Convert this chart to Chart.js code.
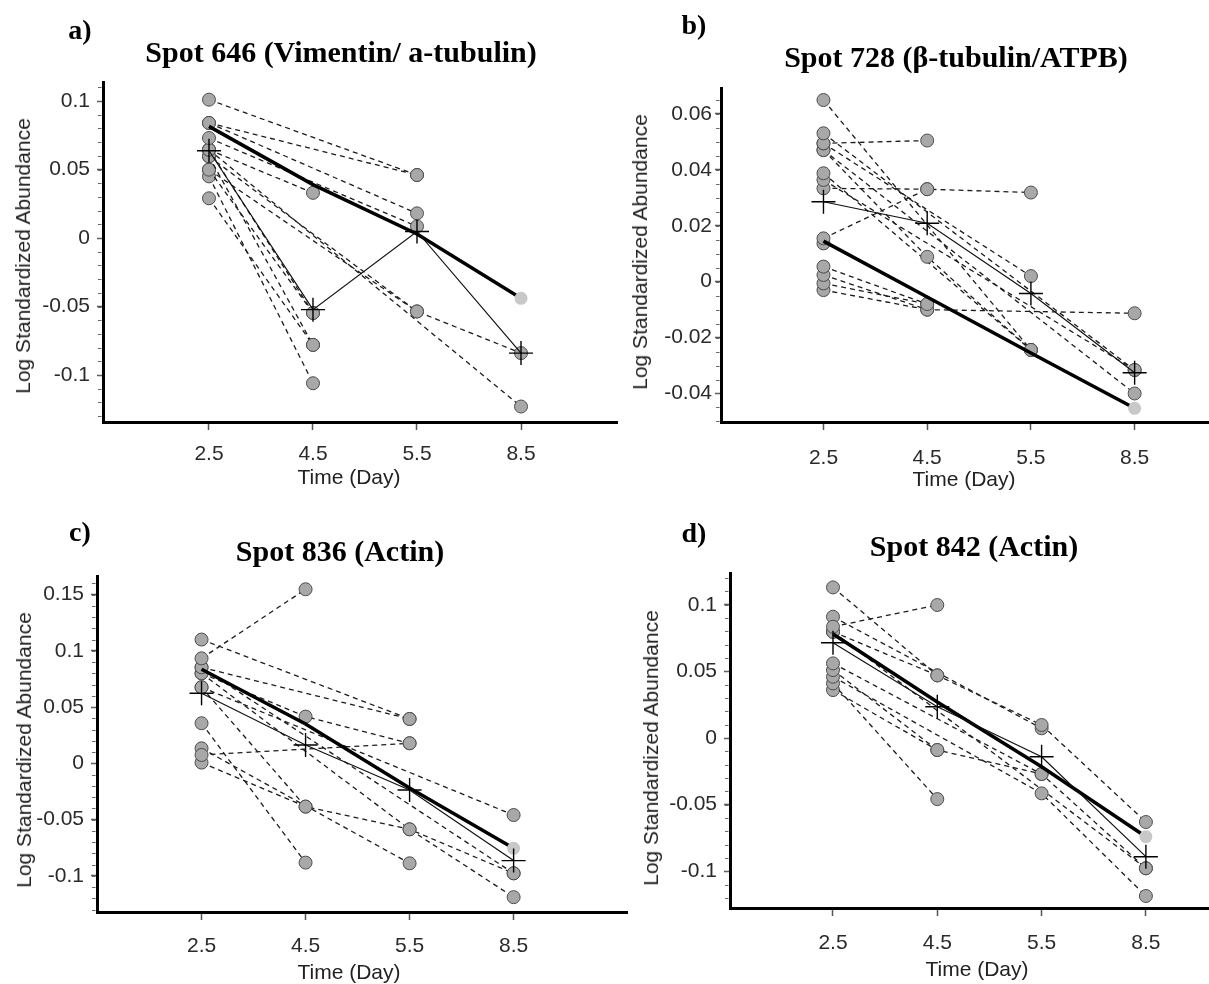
<!DOCTYPE html>
<html>
<head>
<meta charset="utf-8">
<script src="https://cdn.jsdelivr.net/npm/chart.js@4.4.0/dist/chart.umd.min.js"></script>
<style>
  html, body { margin: 0; padding: 0; background: #fff; }
  #page { position: relative; width: 1209px; height: 984px; overflow: hidden; background: #fff; }
  .box { position: absolute; }
  .lbl { position: absolute; white-space: nowrap; transform: translate(-50%, -50%); line-height: 1; }
  .letter { font: bold 28px "Liberation Serif", "Times New Roman", serif; color: #000; }
  .title { font: bold 30px "Liberation Serif", "Times New Roman", serif; color: #000; }
  .xt { font: 21px "Liberation Sans", Arial, sans-serif; color: #222; }
  .yt { font: 21px "Liberation Sans", Arial, sans-serif; color: #222; transform: translate(-50%, -50%) rotate(-90deg); }
</style>
</head>
<body>
<div id="page"></div>
<script>
// ---- data -------------------------------------------------------------
const TIME_LABELS = ['2.5', '4.5', '5.5', '8.5'];

// Each sample row holds log standardized abundance at days 2.5 / 4.5 / 5.5 / 8.5 (null = not measured)
const A_SAMPLES = [
  [0.101, null, 0.046, null],
  [0.084, null, 0.046, null],
  [0.084, null, 0.018, null],
  [0.073, null, 0.0085, null],
  [0.0645, 0.033, null, null],
  [0.0645, -0.0547, null, null],
  [0.0596, -0.078, null, null],
  [0.0499, -0.0547, null, null],
  [0.045, -0.106, null, null],
  [0.029, -0.078, null, null],
  [0.0596, null, -0.0536, -0.084],
  [0.0499, null, -0.0536, null],
  [0.0645, null, null, -0.123]
];
const A_MEAN = [0.0637, -0.0523, 0.0048, -0.084];
const A_TREND = [0.0815, 0.039, 0.003, -0.044];
const A_YTICKS = [-0.1, -0.05, 0, 0.05, 0.1];

const B_SAMPLES = [
  [0.065, null, -0.0244, null],
  [0.0531, null, null, -0.0316],
  [0.0495, 0.0505, null, null],
  [0.0495, null, 0.002, null],
  [0.0471, null, null, -0.040],
  [0.0471, 0.0089, -0.0244, null],
  [0.0388, null, -0.0244, null],
  [0.0364, null, null, -0.0316],
  [0.0334, 0.0331, 0.0319, null],
  [0.0155, 0.0331, null, null],
  [0.0137, null, null, null],
  [0.0054, -0.008, null, null],
  [0.0024, -0.010, null, -0.0113],
  [-0.0006, -0.008, null, null],
  [-0.003, -0.010, null, null]
];
const B_MEAN = [0.0286, 0.0209, -0.0042, -0.0326];
const B_TREND = [0.0145, -0.0055, -0.0255, -0.0453];
const B_YTICKS = [-0.04, -0.02, 0, 0.02, 0.04, 0.06];

const C_SAMPLES = [
  [0.0933, 0.1547, null, null],
  [0.110, null, 0.0394, null],
  [0.0853, null, 0.0394, null],
  [0.080, 0.0415, 0.0178, null],
  [0.0074, null, 0.0178, null],
  [0.0676, null, null, -0.046],
  [0.0356, -0.0883, null, null],
  [0.0006, -0.0385, -0.0587, -0.0978],
  [0.0133, null, -0.0889, null],
  [0.080, null, -0.0587, -0.119],
  [0.0853, null, null, -0.0978],
  [0.0676, -0.0385, null, null]
];
const C_MEAN = [0.0622, 0.0163, -0.0237, -0.0865];
const C_TREND = [0.0836, 0.035, -0.022, -0.0756];
const C_YTICKS = [-0.1, -0.05, 0, 0.05, 0.1, 0.15];

const D_SAMPLES = [
  [0.113, 0.047, 0.0098, -0.063],
  [0.0835, 0.0998, null, null],
  [0.091, null, 0.0073, null],
  [0.0797, 0.047, null, null],
  [0.056, null, -0.027, -0.0977],
  [0.051, -0.009, null, null],
  [0.046, null, -0.0415, -0.1185],
  [0.041, -0.0458, null, null],
  [0.036, -0.009, -0.027, null],
  [0.0797, null, null, -0.0977]
];
const D_MEAN = [0.0715, 0.0235, -0.014, -0.089];
const D_TREND = [0.078, 0.027, -0.0215, -0.074];
const D_YTICKS = [-0.1, -0.05, 0, 0.05, 0.1];

const TITLES = ['Spot 646 (Vimentin/ a-tubulin)', 'Spot 728 (\u03B2-tubulin/ATPB)', 'Spot 836 (Actin)', 'Spot 842 (Actin)'];
const LETTERS = ['a)', 'b)', 'c)', 'd)'];
const X_TITLE = 'Time (Day)';
const Y_TITLE = 'Log Standardized Abundance';

// ---- layout of the four panels (page pixels) ---------------------------
const PANELS = [
  { samples: A_SAMPLES, mean: A_MEAN, trend: A_TREND, yTicks: A_YTICKS, minor: 0.01,
    box: { left: 0, top: 0, w: 620, h: 500 }, area: { left: 103, top: 82, right: 617, bottom: 422 },
    y: [-0.1343, 0.1139], x: [-0.019, 4.923], padY: 7, padX: 12,
    letter: [80, 30], title: [341, 52], xTitle: [349, 477], yTitle: [23, 256] },
  { samples: B_SAMPLES, mean: B_MEAN, trend: B_TREND, yTicks: B_YTICKS, minor: 0.005,
    box: { left: 610, top: 0, w: 599, h: 500 }, area: { left: 111, top: 88, right: 599, bottom: 422 },
    y: [-0.0502, 0.0693], x: [0.012, 4.717], padY: 3, padX: 16,
    letter: [694, 25], title: [956, 57], xTitle: [964, 479], yTitle: [640, 252] },
  { samples: C_SAMPLES, mean: C_MEAN, trend: C_TREND, yTicks: C_YTICKS, minor: 0.01,
    box: { left: 0, top: 500, w: 630, h: 484 }, area: { left: 97, top: 76, right: 627, bottom: 412 },
    y: [-0.1322, 0.1665], x: [-0.005, 5.09], padY: 7, padX: 14,
    letter: [80, 532], title: [340, 551], xTitle: [349, 972], yTitle: [24, 750] },
  { samples: D_SAMPLES, mean: D_MEAN, trend: D_TREND, yTicks: D_YTICKS, minor: 0.01,
    box: { left: 610, top: 500, w: 599, h: 484 }, area: { left: 120, top: 73, right: 599, bottom: 408 },
    y: [-0.1275, 0.1238], x: [0.0125, 4.605], padY: 7, padX: 15,
    letter: [694, 533], title: [974, 546], xTitle: [977, 969], yTitle: [651, 748] }
];

// small tick marks between the labelled ones on the y axis
const minorTicks = {
  id: 'minorTicks',
  afterDraw(chart, args, opts) {
    const ys = chart.scales.y;
    const ctx = chart.ctx;
    const left = chart.chartArea.left;
    const k0 = Math.ceil(ys.min / opts.step - 1e-6);
    const k1 = Math.floor(ys.max / opts.step + 1e-6);
    ctx.save();
    ctx.strokeStyle = '#666';
    ctx.lineWidth = 1;
    for (let k = k0; k <= k1; k++) {
      const p = Math.round(ys.getPixelForValue(k * opts.step)) + 0.5;
      ctx.beginPath();
      ctx.moveTo(left - 5, p);
      ctx.lineTo(left - 1.5, p);
      ctx.stroke();
    }
    ctx.restore();
  }
};

function toPoints(row) {
  return row.map((v, i) => ({ x: i + 1, y: v })).filter(p => p.y !== null);
}

function fmt(v) {
  const s = String(+v.toFixed(3));
  return s === '-0' ? '0' : s;
}

const page = document.getElementById('page');

function addLabel(cls, text, pos) {
  const d = document.createElement('div');
  d.className = 'lbl ' + cls;
  d.textContent = text;
  d.style.left = pos[0] + 'px';
  d.style.top = pos[1] + 'px';
  page.appendChild(d);
}

PANELS.forEach((P, idx) => {
  const holder = document.createElement('div');
  holder.className = 'box';
  holder.style.left = P.box.left + 'px';
  holder.style.top = P.box.top + 'px';
  holder.style.width = P.box.w + 'px';
  holder.style.height = P.box.h + 'px';
  const cv = document.createElement('canvas');
  cv.width = P.box.w;
  cv.height = P.box.h;
  holder.appendChild(cv);
  page.appendChild(holder);

  const xAxisH = 60;
  const datasets = [];
  P.samples.forEach(row => datasets.push({
    data: toPoints(row),
    borderColor: '#1c1c1c', borderWidth: 1.3, borderDash: [5, 4],
    pointRadius: 6.5, pointBackgroundColor: '#a8a8a8', pointBorderColor: '#4d4d4d', pointBorderWidth: 1,
    order: 2, clip: false
  }));
  datasets.push({
    data: toPoints(P.trend),
    borderColor: '#000', borderWidth: 3.5,
    pointRadius: [0, 0, 0, 6.5], pointBackgroundColor: '#c8c8c8', pointBorderWidth: 0,
    order: 1, clip: false
  });
  datasets.push({
    data: toPoints(P.mean),
    borderColor: '#111', borderWidth: 1.2,
    pointStyle: 'cross', pointRadius: 12, pointBorderColor: '#000', pointBorderWidth: 1.4,
    order: 0, clip: false
  });

  new Chart(cv, {
    type: 'line',
    data: { datasets },
    plugins: [minorTicks],
    options: {
      responsive: false,
      animation: false,
      events: [],
      layout: {
        autoPadding: false,
        padding: { left: 0, top: P.area.top, right: P.box.w - P.area.right, bottom: P.box.h - P.area.bottom - xAxisH }
      },
      plugins: { legend: { display: false }, tooltip: { enabled: false }, minorTicks: { step: P.minor } },
      scales: {
        x: {
          type: 'linear', min: P.x[0], max: P.x[1],
          afterBuildTicks: s => { s.ticks = TIME_LABELS.map((t, i) => ({ value: i + 1 })); },
          afterFit: s => { s.height = xAxisH; },
          ticks: {
            callback: v => TIME_LABELS[Math.round(v) - 1],
            color: '#2a2a2a', padding: P.padX,
            font: { family: '"Liberation Sans", Arial, sans-serif', size: 21 },
            maxRotation: 0, autoSkip: false
          },
          grid: { drawOnChartArea: false, drawTicks: true, tickLength: 8, tickColor: '#555', tickWidth: 1.5 },
          border: { display: true, color: '#000', width: 3 }
        },
        y: {
          type: 'linear', min: P.y[0], max: P.y[1],
          afterBuildTicks: s => { s.ticks = P.yTicks.map(v => ({ value: v })); },
          afterFit: s => { s.width = P.area.left; },
          ticks: {
            callback: v => fmt(v),
            color: '#2a2a2a', padding: P.padY,
            font: { family: '"Liberation Sans", Arial, sans-serif', size: 21 },
            autoSkip: false
          },
          grid: { drawOnChartArea: false, drawTicks: true, tickLength: 6, tickColor: '#555', tickWidth: 1.5 },
          border: { display: true, color: '#000', width: 3 }
        }
      }
    }
  });

  addLabel('letter', LETTERS[idx], P.letter);
  addLabel('title', TITLES[idx], P.title);
  addLabel('xt', X_TITLE, P.xTitle);
  addLabel('yt', Y_TITLE, P.yTitle);
});
</script>
</body>
</html>
